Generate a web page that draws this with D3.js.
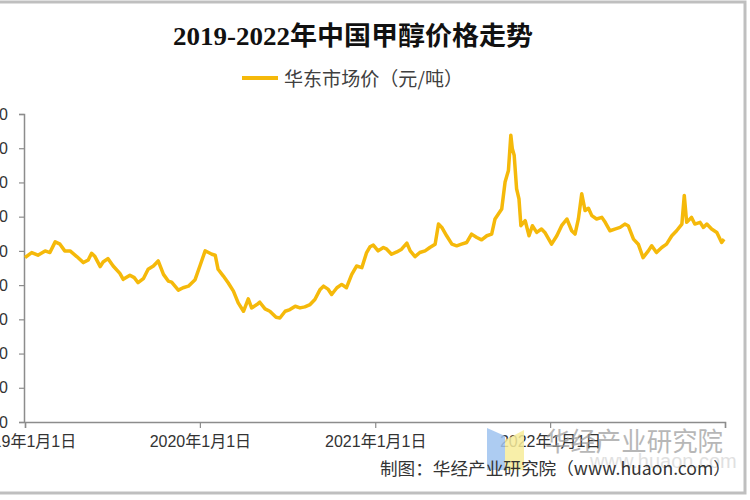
<!DOCTYPE html>
<html><head><meta charset="utf-8">
<script src="https://cdn.jsdelivr.net/npm/d3@7"></script>
<style>html,body{margin:0;padding:0;background:#fff;}svg{display:block;}</style>
</head><body>
<svg id="c" width="750" height="500"></svg>
<script>
const title = "2019-2022年中国甲醇价格走势";
const seriesName = "华东市场价（元/吨）";
const source = "制图：华经产业研究院（www.huaon.com）";
const watermark = "华经产业研究院";
const yTicks = [0,500,1000,1500,2000,2500,3000,3500,4000,4500];
const xTickDates = ["2019-01-01","2020-01-01","2021-01-01","2022-01-01","2023-01-01"];
const xTickLabels = ["2019年1月1日","2020年1月1日","2021年1月1日","2022年1月1日",""];
const dates = [
"2019-01-01","2019-01-15","2019-01-28","2019-02-12","2019-02-22","2019-03-05","2019-03-15","2019-03-25","2019-04-05","2019-04-19",
"2019-05-03","2019-05-13","2019-05-20","2019-05-27","2019-06-07","2019-06-13","2019-06-23","2019-07-04","2019-07-18","2019-07-25",
"2019-08-08","2019-08-17","2019-08-25","2019-09-05","2019-09-15","2019-09-26","2019-10-06","2019-10-17","2019-10-27","2019-11-03",
"2019-11-17","2019-11-27","2019-12-08","2019-12-22",
"2020-01-01","2020-01-12","2020-01-19","2020-01-26","2020-02-02","2020-02-08","2020-02-19","2020-02-29","2020-03-11","2020-03-21",
"2020-04-01","2020-04-11","2020-04-18","2020-04-29","2020-05-05","2020-05-16","2020-05-26","2020-06-08","2020-06-16","2020-06-27",
"2020-07-07","2020-07-18","2020-07-28","2020-08-07","2020-08-18","2020-08-28","2020-09-08","2020-09-15","2020-09-25","2020-10-02",
"2020-10-13","2020-10-23","2020-11-02","2020-11-13","2020-11-23","2020-12-04","2020-12-14","2020-12-21","2020-12-28",
"2021-01-07","2021-01-18","2021-01-25","2021-02-04","2021-02-15","2021-02-25","2021-03-08","2021-03-15","2021-03-25","2021-04-04",
"2021-04-15","2021-04-25","2021-05-06","2021-05-13","2021-05-20","2021-05-30","2021-06-10","2021-06-20","2021-06-30","2021-07-11",
"2021-07-21","2021-08-01","2021-08-11","2021-08-22","2021-09-01","2021-09-08","2021-09-15","2021-09-22","2021-09-29","2021-10-06",
"2021-10-11","2021-10-14","2021-10-18","2021-10-23","2021-10-28","2021-11-01","2021-11-10","2021-11-18","2021-11-25","2021-12-04",
"2021-12-14","2021-12-21",
"2022-01-04","2022-01-15","2022-01-25","2022-02-05","2022-02-15","2022-02-22","2022-03-01","2022-03-08","2022-03-15","2022-03-22",
"2022-03-29","2022-04-08","2022-04-19","2022-04-26","2022-05-06","2022-05-16","2022-05-27","2022-06-06","2022-06-13","2022-06-24",
"2022-07-04","2022-07-14","2022-07-25","2022-08-01","2022-08-11","2022-08-22","2022-09-01","2022-09-12","2022-09-22","2022-10-03",
"2022-10-08","2022-10-13","2022-10-23","2022-10-30","2022-11-10","2022-11-17","2022-11-24","2022-12-04","2022-12-15","2022-12-25",
"2022-12-30"
];
const prices = [
2403,2476,2437,2500,2476,2632,2598,2500,2500,2417,
2329,2368,2466,2417,2271,2338,2388,2279,2172,2084,
2143,2109,2035,2094,2231,2279,2353,2157,2059,2044,
1926,1962,1985,2080,
2279,2500,2476,2451,2437,2231,2132,2035,1912,1741,
1618,1800,1667,1716,1750,1652,1618,1529,1520,1618,
1643,1691,1667,1682,1716,1790,1937,1985,1937,1863,
1962,2010,1962,2157,2279,2255,2476,2560,2584,
2500,2550,2525,2451,2485,2525,2613,2500,2417,2476,
2500,2550,2598,2892,2843,2721,2598,2574,2598,2623,
2745,2696,2662,2721,2745,2966,3040,3113,3506,3676,
4191,3996,3897,3408,3260,2868,2941,2721,2868,2770,
2819,2770,
2598,2721,2868,2966,2794,2745,2966,3334,3089,3123,
3015,2966,2990,2917,2794,2819,2843,2892,2868,2672,
2598,2402,2500,2574,2476,2550,2598,2721,2794,2892,
3309,2917,2990,2892,2917,2843,2892,2819,2770,2623,
2672
];

const svg = d3.select("#c");
const parse = d3.timeParse("%Y-%m-%d");
const data = dates.map((d,i)=>({date:parse(d), v:prices[i]}));

const x = d3.scaleTime().domain([parse("2019-01-01"), parse("2023-01-01")]).range([25, 725]);
const y = d3.scaleLinear().domain([0, 4500]).range([422, 114]);

// frame
svg.append("rect").attr("x",-5).attr("y",2).attr("width",750).attr("height",491)
  .attr("fill","none").attr("stroke","#bfbfbf").attr("stroke-width",3);

// title
svg.append("text").attr("x",173).attr("y",45)
  .attr("font-family","'Liberation Serif','Noto Sans CJK SC',serif").attr("font-weight","bold")
  .attr("font-size",26).attr("fill","#111").attr("textLength",360).attr("lengthAdjust","spacingAndGlyphs")
  .text(title);

// legend
svg.append("line").attr("x1",242).attr("x2",278).attr("y1",78).attr("y2",78)
  .attr("stroke","#f5b90a").attr("stroke-width",4);
svg.append("text").attr("x",284).attr("y",86)
  .attr("font-family","'Noto Sans CJK SC',sans-serif").attr("font-size",19).attr("fill","#404040")
  .attr("textLength",179).attr("lengthAdjust","spacingAndGlyphs")
  .text(seriesName);

// y axis
const yAxis = d3.axisLeft(y).tickValues(yTicks).tickSize(5).tickPadding(11).tickFormat(d3.format("d"));
const gy = svg.append("g").attr("transform","translate(24,0)").call(yAxis);
gy.select(".domain").attr("stroke","#8c8c8c").attr("stroke-width",1.5);
gy.selectAll(".tick line").attr("stroke","#8c8c8c").attr("stroke-width",1.2);
gy.selectAll(".tick text").attr("font-family","'Liberation Sans','Noto Sans CJK SC',sans-serif")
  .attr("font-size",16).attr("fill","#333");

// x axis
const xAxis = d3.axisBottom(x).tickValues(xTickDates.map(parse)).tickSize(6).tickPadding(8)
  .tickFormat((d,i)=>xTickLabels[i]);
const gx = svg.append("g").attr("transform","translate(0,422)").call(xAxis);
gx.select(".domain").attr("stroke","#8c8c8c").attr("stroke-width",1.5);
gx.selectAll(".tick line").attr("stroke","#8c8c8c").attr("stroke-width",1.2);
gx.selectAll(".tick text").attr("font-family","'Liberation Sans','Noto Sans CJK SC',sans-serif")
  .attr("font-size",16).attr("fill","#333");

// watermark logo
svg.append("path").attr("d","M487,428 L505,436 L505,470 L487,470 Z").attr("fill","#9fc3f0").attr("opacity",0.85);
svg.append("path").attr("d","M505,440 L524,430 L524,470 L505,470 Z").attr("fill","#f7ec9a").attr("opacity",0.85);

// line
const line = d3.line().x(d=>x(d.date)).y(d=>y(d.v));
svg.append("path").datum(data).attr("d",line).attr("fill","none")
  .attr("stroke","#f5b90a").attr("stroke-width",3.5).attr("stroke-linejoin","round");

// watermark text
svg.append("text").attr("x",545).attr("y",451)
  .attr("font-family","'Noto Sans CJK SC',sans-serif").attr("font-size",26).attr("fill","#9a9a9a").attr("opacity",0.7)
  .attr("textLength",178).attr("lengthAdjust","spacingAndGlyphs").text(watermark);
svg.append("text").attr("x",590).attr("y",468)
  .attr("font-family","'Liberation Sans',sans-serif").attr("font-size",20).attr("fill","#c8c8c8").attr("opacity",0.55)
  .text("www.huaon.com");

// source
svg.append("text").attr("x",380).attr("y",475)
  .attr("font-family","'Noto Sans CJK SC',sans-serif").attr("font-size",17).attr("fill","#333")
  .attr("textLength",351).attr("lengthAdjust","spacingAndGlyphs").text(source);
</script>
</body></html>
